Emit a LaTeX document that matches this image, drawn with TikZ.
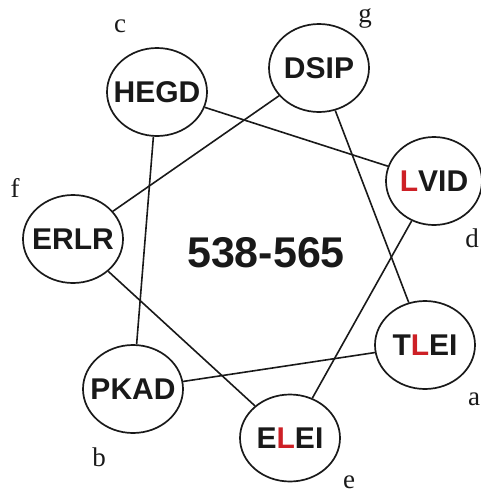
\documentclass[tikz,border=0pt]{standalone}
\usepackage{fontspec}
\setmainfont{Liberation Serif}
\setsansfont{Liberation Sans}
\usetikzlibrary{shapes.geometric}
\definecolor{lred}{RGB}{205,32,38}
\definecolor{ink}{RGB}{25,25,25}
\begin{document}
\begin{tikzpicture}[x=1pt,y=-1pt,
  res/.style={draw=ink, ellipse, line width=1.7pt, minimum width=100pt, minimum height=88pt,
    inner sep=0pt, text=ink, font=\sffamily\bfseries\fontsize{30}{30}\selectfont},
  conn/.style={draw=ink, line width=1.6pt},
  lbl/.style={anchor=base, inner sep=0pt, text=ink, font=\fontsize{27}{27}\selectfont}]
\useasboundingbox (0,0) rectangle (480,493);
\node[res] (hegd) at (157,92) {\makebox[0pt]{HEGD}};
\node[res] (dsip) at (319,68) {\makebox[0pt]{DSIP}};
\node[res, minimum width=96pt] (lvid) at (434,181) {\makebox[0pt]{\textcolor{lred}{L}VID}};
\node[res] (erlr) at (73,239) {\makebox[0pt]{ERLR}};
\node[res] (tlei) at (425,345) {\makebox[0pt]{T\textcolor{lred}{L}EI}};
\node[res] (pkad) at (133,389) {\makebox[0pt]{PKAD}};
\node[res, minimum height=87pt] (elei) at (290,438) {\makebox[0pt]{E\textcolor{lred}{L}EI}};
\draw[conn] (hegd) -- (lvid);
\draw[conn] (hegd) -- (pkad);
\draw[conn] (dsip) -- (erlr);
\draw[conn] (dsip) -- (tlei);
\draw[conn] (lvid) -- (elei);
\draw[conn] (erlr) -- (elei);
\draw[conn] (pkad) -- (tlei);
\node[anchor=base, inner sep=0pt, text=ink, font=\sffamily\bfseries\fontsize{43}{43}\selectfont] (title) at (266,267) {538-565};
\node[lbl] (la) at (474,405) {a};
\node[lbl] (lb) at (99,466) {b};
\node[lbl] (lc) at (120,32) {c};
\node[lbl] (ld) at (472,247) {d};
\node[lbl] (le) at (349,488) {e};
\node[lbl] (lf) at (15,197) {f};
\node[lbl] (lg) at (365,22) {g};
\end{tikzpicture}
\end{document}
